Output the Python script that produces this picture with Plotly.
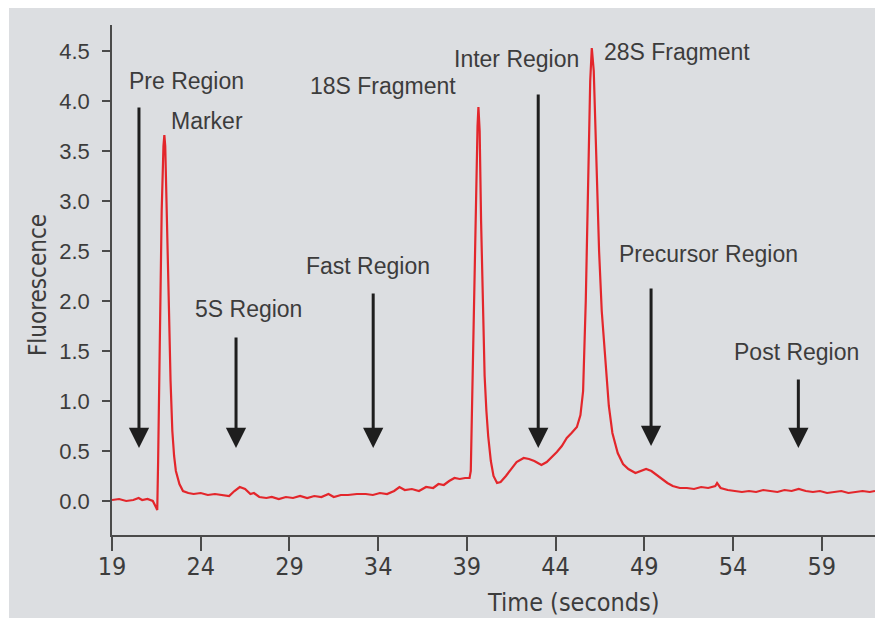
import plotly.graph_objects as go

# Electropherogram trace: migration time (s) vs fluorescence
time_s = [
    19.0, 19.4, 19.8, 20.2, 20.5, 20.7, 21.0, 21.3, 21.5, 21.55,
    21.6, 21.7, 21.8, 21.9, 21.95, 22.0, 22.1, 22.2, 22.3, 22.4,
    22.5, 22.6, 22.8, 23.0, 23.3, 23.6, 24.0, 24.4, 24.8, 25.2,
    25.6, 25.9, 26.2, 26.5, 26.8, 27.0, 27.3, 27.7, 28.0, 28.4,
    28.8, 29.2, 29.6, 30.0, 30.4, 30.8, 31.2, 31.5, 31.9, 32.3,
    32.8, 33.3, 33.7, 34.1, 34.5, 34.9, 35.2, 35.5, 35.9, 36.3,
    36.7, 37.1, 37.4, 37.7, 38.0, 38.3, 38.6, 38.9, 39.15, 39.22,
    39.3, 39.4, 39.5, 39.6, 39.65, 39.72, 39.8, 39.9, 40.0, 40.1,
    40.2, 40.35, 40.5, 40.7, 40.9, 41.2, 41.5, 41.8, 42.2, 42.5,
    42.8, 43.2, 43.5, 43.8, 44.07, 44.35, 44.63, 44.9, 45.2, 45.4,
    45.55, 45.7, 45.85, 45.95, 46.04, 46.15, 46.3, 46.45, 46.6, 46.8,
    47.0, 47.2, 47.5, 47.8, 48.1, 48.5, 48.8, 49.1, 49.4, 49.7,
    50.0, 50.3, 50.6, 51.0, 51.4, 51.8, 52.2, 52.6, 53.0, 53.1,
    53.3, 53.7, 54.1, 54.5, 54.9, 55.3, 55.7, 56.1, 56.5, 56.9,
    57.3, 57.7, 58.1, 58.5, 58.9, 59.3, 59.7, 60.1, 60.5, 60.9,
    61.3, 61.7, 62.0,
]
fluorescence = [
    0.01, 0.02, 0.00, 0.01, 0.03, 0.01, 0.02, 0.00, -0.07, -0.09,
    0.40, 1.60, 2.90, 3.55, 3.66, 3.55, 2.90, 2.00, 1.20, 0.70,
    0.45, 0.30, 0.17, 0.10, 0.08, 0.07, 0.08, 0.06, 0.07, 0.06,
    0.05, 0.10, 0.14, 0.12, 0.07, 0.08, 0.04, 0.03, 0.04, 0.02,
    0.04, 0.03, 0.05, 0.03, 0.05, 0.04, 0.07, 0.04, 0.06, 0.06,
    0.07, 0.07, 0.06, 0.08, 0.07, 0.10, 0.14, 0.11, 0.12, 0.10,
    0.14, 0.13, 0.17, 0.16, 0.20, 0.23, 0.22, 0.23, 0.23, 0.30,
    1.00, 2.00, 3.00, 3.75, 3.94, 3.70, 2.80, 1.90, 1.25, 0.90,
    0.65, 0.40, 0.25, 0.18, 0.19, 0.25, 0.32, 0.39, 0.43, 0.42,
    0.40, 0.36, 0.39, 0.44, 0.49, 0.55, 0.63, 0.68, 0.74, 0.86,
    1.10, 2.00, 3.30, 4.20, 4.53, 4.30, 3.40, 2.50, 1.90, 1.38,
    0.95, 0.68, 0.48, 0.37, 0.32, 0.28, 0.30, 0.32, 0.30, 0.26,
    0.22, 0.18, 0.15, 0.13, 0.13, 0.12, 0.14, 0.13, 0.15, 0.18,
    0.13, 0.11, 0.10, 0.09, 0.10, 0.09, 0.11, 0.10, 0.09, 0.11,
    0.10, 0.12, 0.10, 0.09, 0.10, 0.08, 0.09, 0.10, 0.08, 0.09,
    0.10, 0.09, 0.10,
]

# Region labels and the arrows marking each region
label_text = ["Pre Region", "Marker", "5S Region", "Fast Region", "18S Fragment",
              "Inter Region", "28S Fragment", "Precursor Region", "Post Region"]
label_x = [23.2, 24.38, 26.67, 33.4, 34.3, 41.8, 50.82, 52.63, 57.56]
label_y = [4.20, 3.80, 1.92, 2.355, 4.155, 4.425, 4.49, 2.475, 1.495]

arrow_x = [20.52, 25.99, 33.72, 43.02, 49.38, 57.68]
arrow_top = [3.95, 1.65, 2.09, 4.08, 2.14, 1.23]
arrow_tip = [0.53, 0.53, 0.53, 0.53, 0.55, 0.53]

x_ticks = [19, 24, 29, 34, 39, 44, 49, 54, 59]
y_ticks = [0.0, 0.5, 1.0, 1.5, 2.0, 2.5, 3.0, 3.5, 4.0, 4.5]

TEXT = "#3c3c3c"
AXIS = "#4a4a4a"
BG = "#dcdee1"
NARROW = "Liberation Sans Narrow, DejaVu Sans Condensed, Liberation Sans, sans-serif"
REGULAR = "Liberation Sans, Arial, sans-serif"

fig = go.Figure()
fig.add_trace(go.Scatter(
    x=time_s, y=fluorescence, mode="lines",
    line=dict(color="#e3262b", width=2.2),
    hoverinfo="skip", showlegend=False,
))

annotations = []
for t, lx, ly in zip(label_text, label_x, label_y):
    annotations.append(dict(
        x=lx, y=ly, xref="x", yref="y", text=t, showarrow=False,
        xanchor="center", yanchor="middle",
        font=dict(family=REGULAR, size=23, color=TEXT),
    ))
for ax_, top, tip in zip(arrow_x, arrow_top, arrow_tip):
    annotations.append(dict(
        x=ax_, y=tip, ax=ax_, ay=top, xref="x", yref="y", axref="x", ayref="y",
        text="", showarrow=True, arrowhead=2, arrowsize=1.35, arrowwidth=3,
        arrowcolor="#1e1e1e", standoff=0, startstandoff=0,
    ))
annotations.append(dict(
    x=0.6055, y=-0.133, xref="paper", yref="paper", text="Time (seconds)",
    showarrow=False, xanchor="center", yanchor="middle",
    font=dict(family=NARROW, size=25, color=TEXT),
))
annotations.append(dict(
    x=-0.097, y=0.49, xref="paper", yref="paper", text="Fluorescence",
    showarrow=False, xanchor="center", yanchor="middle", textangle=-90,
    font=dict(family=NARROW, size=24, color=TEXT),
))

fig.update_layout(
    width=875, height=618,
    margin=dict(l=112, r=0, t=25, b=83),
    paper_bgcolor="white",
    plot_bgcolor="rgba(0,0,0,0)",
    shapes=[dict(
        type="rect", xref="paper", yref="paper",
        x0=-0.135, x1=1.01, y0=-0.18, y1=1.0333,
        fillcolor=BG, line=dict(width=0), layer="below",
    )],
    annotations=annotations,
    xaxis=dict(
        range=[19, 62], tickvals=x_ticks, ticktext=[str(v) for v in x_ticks],
        showgrid=False, zeroline=False, showline=True, linecolor=AXIS, linewidth=1.5,
        ticks="outside", ticklen=14, tickwidth=2, tickcolor=AXIS,
        ticklabelstandoff=-6,
        tickfont=dict(family=NARROW, size=25, color=TEXT),
    ),
    yaxis=dict(
        range=[-0.34, 4.76], tickvals=y_ticks, ticktext=[f"{v:.1f}" for v in y_ticks],
        showgrid=False, zeroline=False, showline=True, linecolor=AXIS, linewidth=1.5,
        ticks="outside", ticklen=8, tickwidth=2, tickcolor=AXIS,
        ticklabelstandoff=8,
        tickfont=dict(family=REGULAR, size=22, color=TEXT),
    ),
)

fig.write_html("out.html")
